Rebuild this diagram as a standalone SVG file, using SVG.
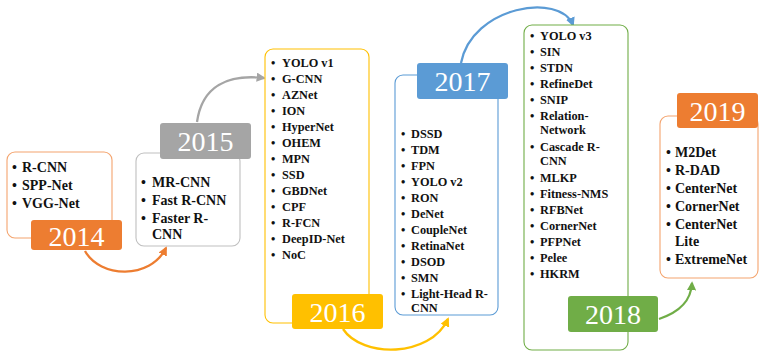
<svg xmlns="http://www.w3.org/2000/svg" width="761" height="351" viewBox="0 0 761 351">
<style>
.box{fill:#fff;stroke-width:1.1}
.lbl{stroke:none}
.yr{font-family:"Liberation Serif","Times New Roman",serif;font-size:28px;fill:#fff;text-anchor:middle}
.it{font-family:"Liberation Serif","Times New Roman",serif;font-weight:bold;fill:#111}
.s14{font-size:14px}
.s12{font-size:12.3px}
.arr{fill:none;stroke-width:2.3}
</style>
<defs>
<marker id="mo" viewBox="0 0 10 10" refX="8" refY="5" markerWidth="4" markerHeight="4" orient="auto" markerUnits="strokeWidth"><path d="M0,0 L10,5 L0,10 z" fill="#ED7D31"/></marker>
<marker id="mg" viewBox="0 0 10 10" refX="8" refY="5" markerWidth="4" markerHeight="4" orient="auto" markerUnits="strokeWidth"><path d="M0,0 L10,5 L0,10 z" fill="#A5A5A5"/></marker>
<marker id="my" viewBox="0 0 10 10" refX="8" refY="5" markerWidth="4" markerHeight="4" orient="auto" markerUnits="strokeWidth"><path d="M0,0 L10,5 L0,10 z" fill="#FFC000"/></marker>
<marker id="mb" viewBox="0 0 10 10" refX="8" refY="5" markerWidth="4" markerHeight="4" orient="auto" markerUnits="strokeWidth"><path d="M0,0 L10,5 L0,10 z" fill="#5B9BD5"/></marker>
<marker id="mgr" viewBox="0 0 10 10" refX="8" refY="5" markerWidth="4" markerHeight="4" orient="auto" markerUnits="strokeWidth"><path d="M0,0 L10,5 L0,10 z" fill="#70AD47"/></marker>
</defs>

<g id="connectors">
<path class="arr" stroke="#ED7D31" d="M85,251 C100,278 150,280 166,248" marker-end="url(#mo)"/>
<path class="arr" stroke="#A5A5A5" d="M197,122 C202,86 228,74 264,78" marker-end="url(#mg)"/>
<path class="arr" stroke="#FFC000" d="M343,329 C362,358 430,358 448,319" marker-end="url(#my)"/>
<path class="arr" stroke="#5B9BD5" d="M461,63 C472,6 560,-8 573,25" marker-end="url(#mb)"/>
<path class="arr" stroke="#70AD47" d="M659,319 C680,312 691,301 692,283" marker-end="url(#mgr)"/>
</g>

<g id="n2014">
<rect class="box" x="7" y="152" width="105" height="86" rx="8" stroke="#F4A46E"/>
<g class="it s14">
<text x="12" y="172">•</text><text x="22" y="172">R-CNN</text>
<text x="12" y="190">•</text><text x="22" y="190">SPP-Net</text>
<text x="12" y="208">•</text><text x="22" y="208">VGG-Net</text>
</g>
<rect class="lbl" x="31" y="220" width="91" height="30" rx="3" fill="#ED7D31"/>
<text class="yr" x="76.5" y="245.5">2014</text>
</g>

<g id="n2015">
<rect class="box" x="136" y="153" width="104" height="93" rx="8" stroke="#BFBFBF"/>
<g class="it s14">
<text x="141" y="187">•</text><text x="152" y="187">MR-CNN</text>
<text x="141" y="205">•</text><text x="152" y="205">Fast R-CNN</text>
<text x="141" y="223">•</text><text x="152" y="223">Faster R-</text>
<text x="152" y="239">CNN</text>
</g>
<rect class="lbl" x="160" y="123" width="91" height="36" rx="3" fill="#A5A5A5"/>
<text class="yr" x="205.5" y="151">2015</text>
</g>

<g id="n2016">
<rect class="box" x="265" y="49" width="104" height="274" rx="8" stroke="#FFC000"/>
<g class="it s12">
<text x="271" y="67">•</text><text x="282" y="67">YOLO v1</text>
<text x="271" y="83">•</text><text x="282" y="83">G-CNN</text>
<text x="271" y="99">•</text><text x="282" y="99">AZNet</text>
<text x="271" y="115">•</text><text x="282" y="115">ION</text>
<text x="271" y="131">•</text><text x="282" y="131">HyperNet</text>
<text x="271" y="147">•</text><text x="282" y="147">OHEM</text>
<text x="271" y="163">•</text><text x="282" y="163">MPN</text>
<text x="271" y="179">•</text><text x="282" y="179">SSD</text>
<text x="271" y="195">•</text><text x="282" y="195">GBDNet</text>
<text x="271" y="211">•</text><text x="282" y="211">CPF</text>
<text x="271" y="227">•</text><text x="282" y="227">R-FCN</text>
<text x="271" y="243">•</text><text x="282" y="243">DeepID-Net</text>
<text x="271" y="259">•</text><text x="282" y="259">NoC</text>
</g>
<rect class="lbl" x="292" y="294" width="91" height="35" rx="3" fill="#FFC000"/>
<text class="yr" x="337.5" y="321.5">2016</text>
</g>

<g id="n2017">
<rect class="box" x="395" y="75" width="103" height="240" rx="8" stroke="#5B9BD5"/>
<g class="it s12">
<text x="401" y="138">•</text><text x="411" y="138">DSSD</text>
<text x="401" y="154">•</text><text x="411" y="154">TDM</text>
<text x="401" y="170">•</text><text x="411" y="170">FPN</text>
<text x="401" y="186">•</text><text x="411" y="186">YOLO v2</text>
<text x="401" y="202">•</text><text x="411" y="202">RON</text>
<text x="401" y="218">•</text><text x="411" y="218">DeNet</text>
<text x="401" y="234">•</text><text x="411" y="234">CoupleNet</text>
<text x="401" y="250">•</text><text x="411" y="250">RetinaNet</text>
<text x="401" y="266">•</text><text x="411" y="266">DSOD</text>
<text x="401" y="282">•</text><text x="411" y="282">SMN</text>
<text x="401" y="298">•</text><text x="411" y="298">Light-Head R-</text>
<text x="411" y="312">CNN</text>
</g>
<rect class="lbl" x="417" y="63" width="91" height="36" rx="3" fill="#5B9BD5"/>
<text class="yr" x="462.5" y="91">2017</text>
</g>

<g id="n2018">
<rect class="box" x="524" y="25" width="104" height="325" rx="8" stroke="#70AD47"/>
<g class="it s12">
<text x="530" y="40">•</text><text x="540" y="40">YOLO v3</text>
<text x="530" y="56">•</text><text x="540" y="56">SIN</text>
<text x="530" y="72">•</text><text x="540" y="72">STDN</text>
<text x="530" y="88">•</text><text x="540" y="88">RefineDet</text>
<text x="530" y="104">•</text><text x="540" y="104">SNIP</text>
<text x="530" y="120">•</text><text x="540" y="120">Relation-</text>
<text x="540" y="134">Network</text>
<text x="530" y="151">•</text><text x="540" y="151">Cascade R-</text>
<text x="540" y="165">CNN</text>
<text x="530" y="182">•</text><text x="540" y="182">MLKP</text>
<text x="530" y="198">•</text><text x="540" y="198">Fitness-NMS</text>
<text x="530" y="214">•</text><text x="540" y="214">RFBNet</text>
<text x="530" y="230">•</text><text x="540" y="230">CornerNet</text>
<text x="530" y="246">•</text><text x="540" y="246">PFPNet</text>
<text x="530" y="262">•</text><text x="540" y="262">Pelee</text>
<text x="530" y="278">•</text><text x="540" y="278">HKRM</text>
</g>
<rect class="lbl" x="568" y="296" width="90" height="36" rx="3" fill="#70AD47"/>
<text class="yr" x="613" y="324">2018</text>
</g>

<g id="n2019">
<rect class="box" x="660" y="116" width="98" height="162" rx="8" stroke="#F4A46E"/>
<g class="it s14">
<text x="666" y="157">•</text><text x="675" y="157">M2Det</text>
<text x="666" y="175">•</text><text x="675" y="175">R-DAD</text>
<text x="666" y="193">•</text><text x="675" y="193">CenterNet</text>
<text x="666" y="211">•</text><text x="675" y="211">CornerNet</text>
<text x="666" y="229">•</text><text x="675" y="229">CenterNet</text>
<text x="675" y="246">Lite</text>
<text x="666" y="264">•</text><text x="675" y="264">ExtremeNet</text>
</g>
<rect class="lbl" x="677" y="93" width="81" height="35" rx="3" fill="#ED7D31"/>
<text class="yr" x="717.5" y="120.5">2019</text>
</g>
</svg>
